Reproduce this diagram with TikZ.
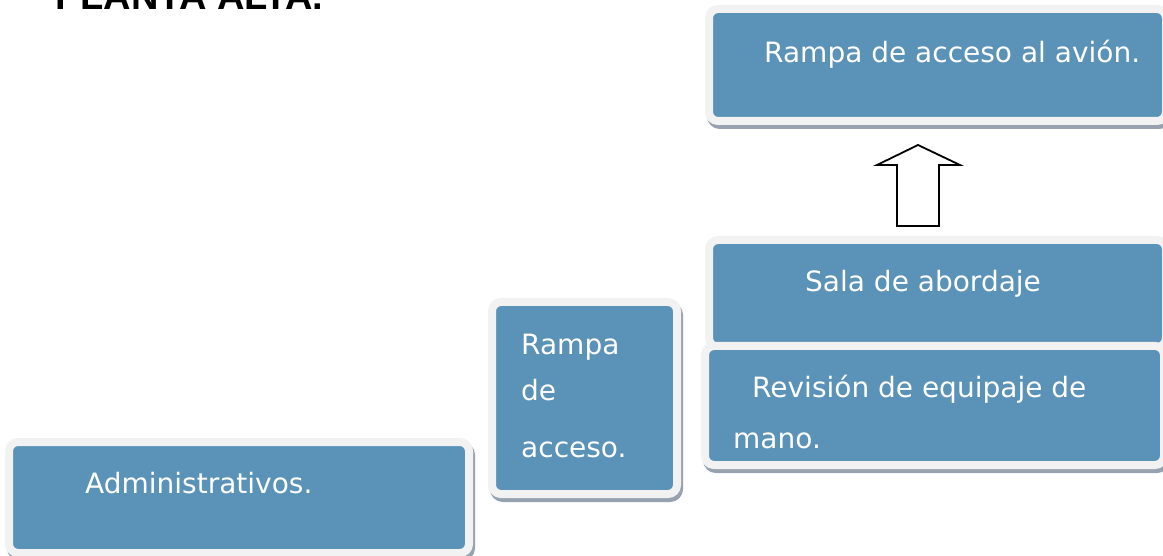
\documentclass[tikz,border=0pt]{standalone}
\usepackage{fontspec}
\setmainfont{DejaVu Sans}
\newfontfamily\titlefont{Liberation Sans}
\definecolor{boxblue}{RGB}{91,146,183}
\definecolor{rimgray}{RGB}{242,242,242}
\definecolor{shadegray}{RGB}{150,162,175}
\tikzset{
  box/.style={rectangle, anchor=north west, inner sep=0pt, outer sep=0pt,
    fill=boxblue, draw=rimgray, line width=8pt, rounded corners=9pt,
    preaction={draw=shadegray, fill=shadegray, line width=8pt,
      transform canvas={shift={(2pt,-4pt)}}}},
  lbl/.style={anchor=base west, text=white, inner sep=0pt, font=\fontsize{28}{32}\selectfont},
  blockarrow/.style={draw=black, line width=1.8pt, fill=white, line join=miter}
}
\begin{document}
\begin{tikzpicture}[x=1pt,y=-1pt]
\useasboundingbox (0,0) rectangle (1163,556);
\clip (0,0) rectangle (1163,556);
% title
\node[anchor=base west, inner sep=0pt, font=\titlefont\bfseries\fontsize{38}{40}\selectfont] (title) at (55,10) {PLANTA ALTA.};
% boxes
\node[box, minimum width=460pt, minimum height=111pt] (admin) at (9,442) {};
\node[box, minimum width=185pt, minimum height=192pt] (rampa) at (492,302) {};
\node[box, minimum width=457pt, minimum height=107pt] (sala) at (709,240) {};
\node[box, minimum width=459pt, minimum height=119pt] (revision) at (705,346) {};
\node[box, minimum width=457pt, minimum height=112pt] (avion) at (709,9) {};
% labels
\node[lbl] (tadmin) at (85,493) {Administrativos.};
\node[lbl] (tr1) at (521,355) {Rampa};
\node[lbl] (tr2) at (521,400) {de};
\node[lbl] (tr3) at (521,457) {acceso.};
\node[lbl] (tsala) at (805,292) {Sala de abordaje};
\node[lbl] (trev1) at (752,397) {Revisión de equipaje de};
\node[lbl] (trev2) at (733,448) {mano.};
\node[lbl] (tavion) at (764,63) {Rampa de acceso al avión.};
% block arrow
\draw[blockarrow] (918,145) -- (960,165) -- (939,165) -- (939,226) -- (897,226) -- (897,165) -- (877,165) -- cycle;
\end{tikzpicture}
\end{document}
